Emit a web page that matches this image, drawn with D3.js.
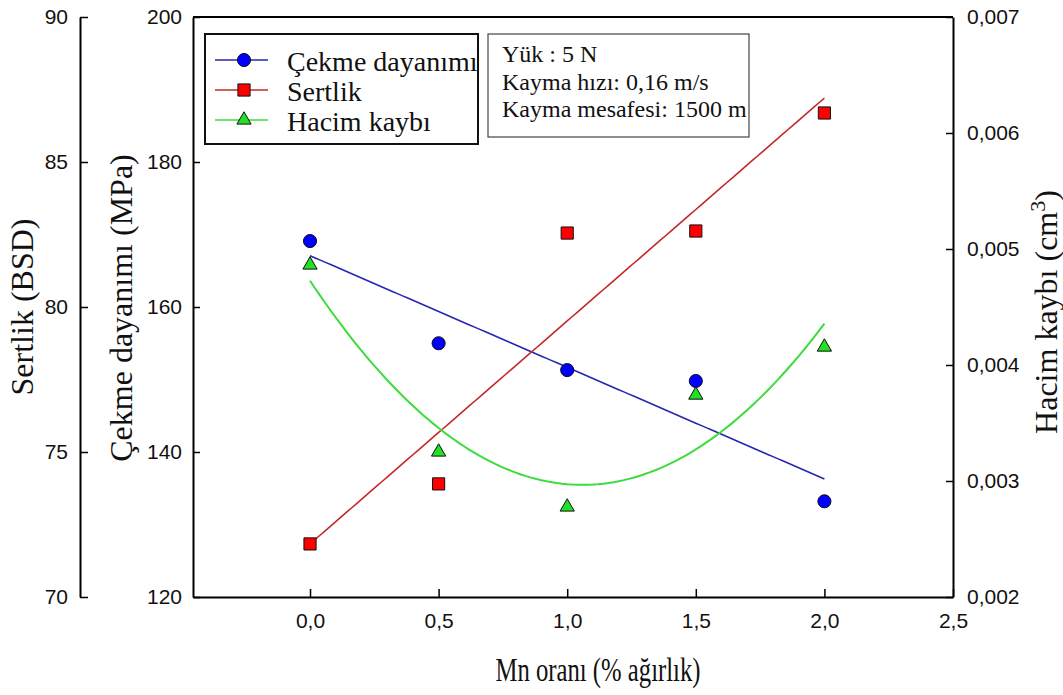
<!DOCTYPE html>
<html>
<head>
<meta charset="utf-8">
<script src="https://cdn.jsdelivr.net/npm/d3@7"></script>
<style>
  body { margin: 0; background: #fff; }
  svg { display: block; }
</style>
</head>
<body>
<svg id="chart" width="1063" height="695"></svg>
<script>
// Mn content (wt %) and the three measured properties
const mnRatio = [0, 0.5, 1.0, 1.5, 2.0];
const tensileStrength = [169.1, 155.0, 151.3, 149.8, 133.2];      // MPa
const hardness = [71.83, 73.9, 82.55, 82.62, 86.69];              // BSD
const volumeLoss = [0.004862, 0.00325, 0.002776, 0.003741, 0.004155]; // cm3

const xTicks = [0, 0.5, 1.0, 1.5, 2.0, 2.5];
const tensileTicks = [120, 140, 160, 180, 200];
const hardnessTicks = [70, 75, 80, 85, 90];
const lossTicks = [0.002, 0.003, 0.004, 0.005, 0.006, 0.007];

const seriesNames = ["Çekme dayanımı", "Sertlik", "Hacim kaybı"];
const testConditions = ["Yük : 5 N", "Kayma hızı: 0,16 m/s", "Kayma mesafesi: 1500 m"];

const xTitle = "Mn oranı (% ağırlık)";
const tensileTitle = "Çekme dayanımı (MPa)";
const hardnessTitle = "Sertlik (BSD)";
const lossTitle = "Hacim kaybı (cm";

// ---- layout ----
const plot = { left: 193, right: 953, top: 17, bottom: 597 };
const hardnessAxisX = 80;

const serif = "'Liberation Serif', 'Times New Roman', serif";
const sans = "'Liberation Sans', Arial, sans-serif";

const colors = {
  tensile: { fill: "#0000ff", line: "#2626b4" },
  hardness: { fill: "#ff0000", line: "#c42a2a" },
  loss: { fill: "#22e022", line: "#3ddc3d" }
};

const svg = d3.select("#chart");

const trLocale = d3.formatLocale({ decimal: ",", thousands: ".", grouping: [3], currency: ["", "₺"] });

const x = d3.scaleLinear().domain([-0.455, 2.5]).range([plot.left, plot.right]);
const yTensile = d3.scaleLinear().domain([120, 200]).range([plot.bottom, plot.top]);
const yHardness = d3.scaleLinear().domain([70, 90]).range([plot.bottom, plot.top]);
const yLoss = d3.scaleLinear().domain([0.002, 0.007]).range([plot.bottom, plot.top]);

// ---- least-squares fits ----
function linearFit(xs, ys) {
  const n = xs.length;
  const mx = d3.mean(xs), my = d3.mean(ys);
  let sxy = 0, sxx = 0;
  for (let i = 0; i < n; i++) { sxy += (xs[i] - mx) * (ys[i] - my); sxx += (xs[i] - mx) ** 2; }
  const b = sxy / sxx;
  const a = my - b * mx;
  return v => a + b * v;
}

function quadFit(xs, ys) {
  // normal equations for y = c0 + c1 x + c2 x^2
  const S = k => d3.sum(xs, v => v ** k);
  const T = k => d3.sum(xs.map((v, i) => ys[i] * v ** k));
  const A = [[S(0), S(1), S(2)], [S(1), S(2), S(3)], [S(2), S(3), S(4)]];
  const B = [T(0), T(1), T(2)];
  // Gaussian elimination
  for (let c = 0; c < 3; c++) {
    for (let r = c + 1; r < 3; r++) {
      const f = A[r][c] / A[c][c];
      for (let k = c; k < 3; k++) A[r][k] -= f * A[c][k];
      B[r] -= f * B[c];
    }
  }
  const coef = [0, 0, 0];
  for (let r = 2; r >= 0; r--) {
    let s = B[r];
    for (let k = r + 1; k < 3; k++) s -= A[r][k] * coef[k];
    coef[r] = s / A[r][r];
  }
  return v => coef[0] + coef[1] * v + coef[2] * v * v;
}

const fitTensile = linearFit(mnRatio, tensileStrength);
const fitHardness = linearFit(mnRatio, hardness);
const fitLoss = quadFit(mnRatio, volumeLoss);

const xMin = d3.min(mnRatio), xMax = d3.max(mnRatio);
const samples = d3.range(0, 101).map(i => xMin + (xMax - xMin) * i / 100);

// ---- axes ----
function styleAxis(g, fontSize) {
  g.select(".domain").attr("stroke", "#000").attr("stroke-width", 2);
  g.selectAll(".tick line").attr("stroke", "#000").attr("stroke-width", 1.5);
  g.selectAll(".tick text")
    .attr("fill", "#111")
    .style("font-family", sans)
    .style("font-size", fontSize + "px");
}

const fmtX = trLocale.format(".1f");
const fmtLoss = trLocale.format(".3f");

// bottom (Mn ratio)
svg.append("g")
  .attr("transform", `translate(0,${plot.bottom})`)
  .call(d3.axisBottom(x).tickValues(xTicks).tickFormat(fmtX).tickSizeInner(-8).tickSizeOuter(0).tickPadding(16))
  .call(g => styleAxis(g, 21));

// left inner (tensile strength)
svg.append("g")
  .attr("transform", `translate(${plot.left},0)`)
  .call(d3.axisLeft(yTensile).tickValues(tensileTicks).tickFormat(d3.format("d")).tickSizeInner(-7).tickSizeOuter(0).tickPadding(11))
  .call(g => styleAxis(g, 21));

// left outer (hardness)
svg.append("g")
  .attr("transform", `translate(${hardnessAxisX},0)`)
  .call(d3.axisLeft(yHardness).tickValues(hardnessTicks).tickFormat(d3.format("d")).tickSizeInner(-8).tickSizeOuter(0).tickPadding(12))
  .call(g => styleAxis(g, 21));

// right (volume loss)
svg.append("g")
  .attr("transform", `translate(${plot.right},0)`)
  .call(d3.axisRight(yLoss).tickValues(lossTicks).tickFormat(fmtLoss).tickSizeInner(-7).tickSizeOuter(0).tickPadding(14))
  .call(g => styleAxis(g, 21));

// top frame edge
svg.append("line")
  .attr("x1", plot.left).attr("x2", plot.right)
  .attr("y1", plot.top).attr("y2", plot.top)
  .attr("stroke", "#000").attr("stroke-width", 2);

// ---- fit lines ----
const lineGen = (fit, yScale) => d3.line().x(v => x(v)).y(v => yScale(fit(v)));

svg.append("path").datum(samples)
  .attr("d", lineGen(fitTensile, yTensile))
  .attr("fill", "none").attr("stroke", colors.tensile.line).attr("stroke-width", 1.6);

svg.append("path").datum(samples)
  .attr("d", lineGen(fitHardness, yHardness))
  .attr("fill", "none").attr("stroke", colors.hardness.line).attr("stroke-width", 1.6);

svg.append("path").datum(samples)
  .attr("d", lineGen(fitLoss, yLoss))
  .attr("fill", "none").attr("stroke", colors.loss.line).attr("stroke-width", 2);

// ---- markers ----
const circleSym = d3.symbol().type(d3.symbolCircle).size(135);
const squareSym = d3.symbol().type(d3.symbolSquare).size(148);
const triSym = d3.symbol().type(d3.symbolTriangle).size(88);

function drawMarkers(values, yScale, sym, fill) {
  svg.append("g").selectAll("path")
    .data(values)
    .join("path")
    .attr("transform", (d, i) => `translate(${x(mnRatio[i])},${yScale(d)})`)
    .attr("d", sym)
    .attr("fill", fill)
    .attr("stroke", "#111")
    .attr("stroke-width", 1);
}

drawMarkers(hardness, yHardness, squareSym, colors.hardness.fill);
drawMarkers(volumeLoss, yLoss, triSym, colors.loss.fill);
drawMarkers(tensileStrength, yTensile, circleSym, colors.tensile.fill);

// ---- legend ----
const legend = svg.append("g");
legend.append("rect")
  .attr("x", 205).attr("y", 34).attr("width", 273).attr("height", 110)
  .attr("fill", "#fff").attr("stroke", "#111").attr("stroke-width", 2);

const legendItems = [
  { name: seriesNames[0], sym: circleSym, c: colors.tensile },
  { name: seriesNames[1], sym: squareSym, c: colors.hardness },
  { name: seriesNames[2], sym: triSym, c: colors.loss }
];
legendItems.forEach((it, i) => {
  const cy = 60 + i * 30;
  legend.append("line")
    .attr("x1", 215).attr("x2", 268).attr("y1", cy).attr("y2", cy)
    .attr("stroke", it.c.line).attr("stroke-width", 1.5);
  legend.append("path")
    .attr("transform", `translate(244,${cy})`)
    .attr("d", it.sym)
    .attr("fill", it.c.fill).attr("stroke", "#111").attr("stroke-width", 1);
  legend.append("text")
    .attr("x", 287).attr("y", cy + 11)
    .style("font-family", serif).style("font-size", "28px")
    .attr("fill", "#111")
    .text(it.name);
});

// ---- test conditions box ----
const info = svg.append("g");
info.append("rect")
  .attr("x", 488).attr("y", 34).attr("width", 261).attr("height", 103)
  .attr("fill", "#fff").attr("stroke", "#444").attr("stroke-width", 1.2);
testConditions.forEach((t, i) => {
  info.append("text")
    .attr("x", 502).attr("y", 62 + i * 27.5)
    .style("font-family", serif).style("font-size", "24px")
    .attr("fill", "#111")
    .text(t);
});

// ---- axis titles ----
svg.append("text")
  .attr("x", 598).attr("y", 681)
  .attr("text-anchor", "middle")
  .attr("textLength", 205).attr("lengthAdjust", "spacingAndGlyphs")
  .style("font-family", serif).style("font-size", "33px")
  .attr("fill", "#111")
  .text(xTitle);

svg.append("text")
  .attr("transform", "translate(33,307) rotate(-90)")
  .attr("text-anchor", "middle")
  .style("font-family", serif).style("font-size", "32px")
  .attr("fill", "#111")
  .text(hardnessTitle);

svg.append("text")
  .attr("transform", "translate(132,308) rotate(-90)")
  .attr("text-anchor", "middle")
  .style("font-family", serif).style("font-size", "32px")
  .attr("fill", "#111")
  .text(tensileTitle);

const lossLabel = svg.append("text")
  .attr("transform", "translate(1057,312) rotate(-90)")
  .attr("text-anchor", "middle")
  .style("font-family", serif).style("font-size", "32px")
  .attr("fill", "#111");
lossLabel.append("tspan").text(lossTitle);
lossLabel.append("tspan").attr("dy", -12).style("font-size", "22px").text("3");
lossLabel.append("tspan").attr("dy", 12).text(")");
</script>
</body>
</html>
